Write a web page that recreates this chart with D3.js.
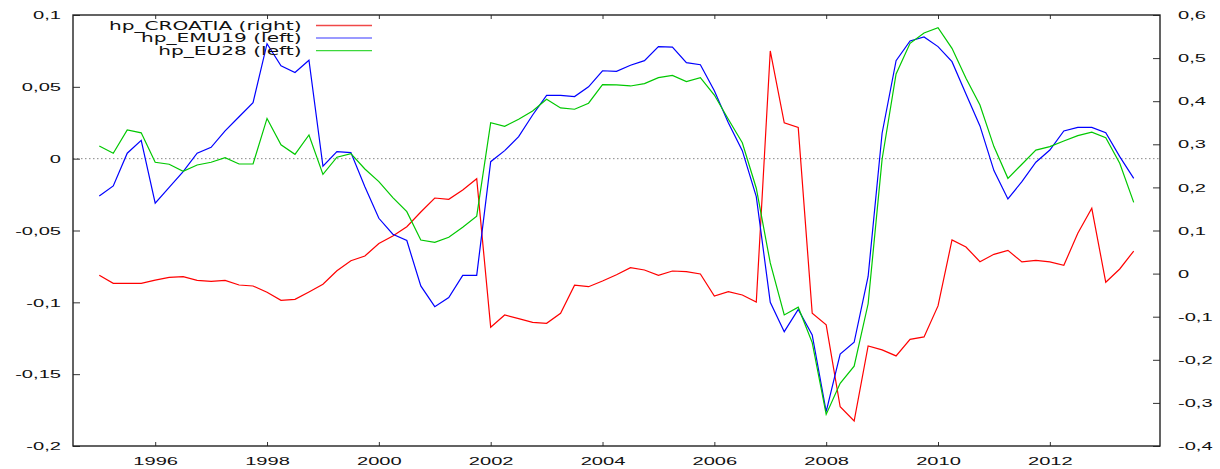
<!DOCTYPE html>
<html>
<head>
<meta charset="utf-8">
<script src="https://cdn.jsdelivr.net/npm/d3@7"></script>
<style>
  body { margin: 0; background: #fff; }
  svg { display: block; font-family: 'DejaVu Sans', sans-serif; }
  .tick line { stroke: #333; }
  .tick text { fill: #111; font-size: 11.5px; }
  .legend-text { font-size: 11.5px; fill: #111; }
</style>
</head>
<body>
<svg width="1220" height="469"></svg>
<script>
// **** data ****

var quarters = [
  '1995Q1','1995Q2','1995Q3','1995Q4','1996Q1','1996Q2','1996Q3','1996Q4',
  '1997Q1','1997Q2','1997Q3','1997Q4','1998Q1','1998Q2','1998Q3','1998Q4',
  '1999Q1','1999Q2','1999Q3','1999Q4','2000Q1','2000Q2','2000Q3','2000Q4',
  '2001Q1','2001Q2','2001Q3','2001Q4','2002Q1','2002Q2','2002Q3','2002Q4',
  '2003Q1','2003Q2','2003Q3','2003Q4','2004Q1','2004Q2','2004Q3','2004Q4',
  '2005Q1','2005Q2','2005Q3','2005Q4','2006Q1','2006Q2','2006Q3','2006Q4',
  '2007Q1','2007Q2','2007Q3','2007Q4','2008Q1','2008Q2','2008Q3','2008Q4',
  '2009Q1','2009Q2','2009Q3','2009Q4','2010Q1','2010Q2','2010Q3','2010Q4',
  '2011Q1','2011Q2','2011Q3','2011Q4','2012Q1','2012Q2','2012Q3','2012Q4',
  '2013Q1','2013Q2','2013Q3'
];

// right axis
var hpCroatia = [
  -0.004, -0.0225, -0.0225, -0.0225,
  -0.015, -0.0086, -0.0072, -0.0156,
  -0.018, -0.0156, -0.0265, -0.0288,
  -0.0434, -0.062, -0.0597, -0.0427,
  -0.0248, 0.0067, 0.030, 0.0408,
  0.070, 0.0872, 0.1088, 0.143,
  0.1754, 0.1724, 0.194, 0.220,
  -0.1246, -0.096, -0.1046, -0.113,
  -0.1153, -0.092, -0.027, -0.0304,
  -0.0172, -0.0026, 0.0137, 0.0084,
  -0.004, 0.006, 0.0044, -0.001,
  -0.052, -0.042, -0.0497, -0.0659,
  0.5165, 0.350, 0.339, -0.092,
  -0.119, -0.309, -0.342, -0.168,
  -0.177, -0.191, -0.1525, -0.147,
  -0.075, 0.078, 0.0617, 0.0277,
  0.0447, 0.054, 0.027, 0.0308,
  0.027, 0.0192, 0.0935, 0.1515,
  -0.0202, 0.0107, 0.0524
];

// left axis
var hpEmu19 = [
  -0.026, -0.019, 0.0038, 0.0128,
  -0.031, -0.020, -0.009, 0.0038,
  0.0079, 0.0193, 0.0292, 0.039,
  0.080, 0.0647, 0.060, 0.0685,
  -0.0053, 0.0049, 0.0042, -0.0195,
  -0.0415, -0.0526, -0.057, -0.0886,
  -0.103, -0.0967, -0.0812, -0.0812,
  -0.0021, 0.0056, 0.0153, 0.0304,
  0.0441, 0.0441, 0.0432, 0.050,
  0.0612, 0.0608, 0.065, 0.0682,
  0.078, 0.0777, 0.0668, 0.0654,
  0.0473, 0.025, 0.0056, -0.0264,
  -0.100, -0.1204, -0.105, -0.1227,
  -0.176, -0.136, -0.1278, -0.082,
  0.0177, 0.0682, 0.0819, 0.0847,
  0.078, 0.0675, 0.045, 0.0228,
  -0.0083, -0.028, -0.016, -0.0025,
  0.006, 0.0193, 0.0218, 0.0218,
  0.0181, 0.0014, -0.0137
];

// left axis
var hpEu28 = [
  0.0088, 0.0038, 0.020, 0.018,
  -0.0025, -0.0039, -0.0088, -0.0044,
  -0.0025, 0.0007, -0.0037, -0.0037,
  0.028, 0.0097, 0.003, 0.0165,
  -0.0109, 0.001, 0.0035, -0.0072,
  -0.016, -0.0271, -0.0369, -0.0566,
  -0.0582, -0.0547, -0.0477, -0.040,
  0.025, 0.0225, 0.0274, 0.0332,
  0.0413, 0.0353, 0.0344, 0.0386,
  0.0515, 0.0513, 0.0506, 0.0522,
  0.0564, 0.058, 0.0536, 0.0564,
  0.0443, 0.0274, 0.0111, -0.0206,
  -0.0726, -0.1088, -0.1034, -0.128,
  -0.178, -0.1564, -0.1444, -0.101,
  -0.0004, 0.059, 0.0803, 0.0875,
  0.0912, 0.0768, 0.056, 0.0374,
  0.0084, -0.0137, -0.0039, 0.006,
  0.0084, 0.0123, 0.016, 0.0184,
  0.0146, -0.0032, -0.0304
];

var yearTicks = [1996, 1998, 2000, 2002, 2004, 2006, 2008, 2010, 2012];
var leftTicks = [-0.2, -0.15, -0.1, -0.05, 0, 0.05, 0.1];
var rightTicks = [-0.4, -0.3, -0.2, -0.1, 0, 0.1, 0.2, 0.3, 0.4, 0.5, 0.6];

var seriesNames = ['hp_CROATIA (right)', 'hp_EMU19 (left)', 'hp_EU28 (left)'];
var seriesColors = ['#ff0000', '#0000ff', '#00c800'];
var legendColors = ['#f04848', '#9a9aff', '#3cd83c'];

// **** layout ****

var plotL = 73, plotR = 1160, plotT = 15, plotB = 446;
var sx = 1.75; // text is drawn wide in the original

function quarterToYear(q) {
    return +q.slice(0, 4) + (+q.slice(5) - 1) / 4;
}

function commaFmt(d) {
    return String(d).replace('.', ',');
}

var xScale = d3.scaleLinear()
    .domain([1994.53, 2013.97]).range([plotL, plotR]);

var yLeft = d3.scaleLinear()
    .domain([-0.2, 0.1]).range([plotB, plotT]);

var yRight = d3.scaleLinear()
    .domain([-0.4, 0.6]).range([plotB, plotT]);

var svg = d3.select('svg');

// zero line
svg.append('line')
    .attr('x1', plotL).attr('x2', plotR)
    .attr('y1', yLeft(0)).attr('y2', yLeft(0))
    .attr('stroke', '#888')
    .attr('stroke-width', 1)
    .attr('stroke-dasharray', '1.5,2.5');

// axes
var gBottom = svg.append('g')
    .attr('transform', 'translate(0,' + plotB + ')')
    .call(d3.axisBottom(xScale).tickValues(yearTicks).tickSize(-4).tickPadding(10.5).tickFormat(d3.format('d')));

svg.append('g')
    .attr('transform', 'translate(0,' + plotT + ')')
    .call(d3.axisTop(xScale).tickValues(yearTicks).tickSize(-4).tickFormat(''));

var gLeft = svg.append('g')
    .attr('transform', 'translate(' + plotL + ',0)')
    .call(d3.axisLeft(yLeft).tickValues(leftTicks).tickSize(-7).tickFormat(commaFmt));

var gRight = svg.append('g')
    .attr('transform', 'translate(' + plotR + ',0)')
    .call(d3.axisRight(yRight).tickValues(rightTicks).tickSize(-7).tickFormat(commaFmt));

svg.selectAll('.domain').remove();
svg.selectAll('.tick text').attr('font-family', null).attr('font-size', null);

gBottom.selectAll('.tick text')
    .attr('transform', 'scale(' + sx + ',1)');

gLeft.selectAll('.tick text')
    .attr('x', -12 / sx)
    .attr('transform', 'scale(' + sx + ',1)');

gRight.selectAll('.tick text')
    .attr('x', 18 / sx)
    .attr('transform', 'scale(' + sx + ',1)');

// frame
svg.append('rect')
    .attr('x', plotL).attr('y', plotT)
    .attr('width', plotR - plotL).attr('height', plotB - plotT)
    .attr('fill', 'none')
    .attr('stroke', '#222')
    .attr('stroke-width', 1.4);

// lines
var lineLeft = d3.line()
    .x(function (d, i) { return xScale(quarterToYear(quarters[i])); })
    .y(function (d) { return yLeft(d); });

var lineRight = d3.line()
    .x(function (d, i) { return xScale(quarterToYear(quarters[i])); })
    .y(function (d) { return yRight(d); });

svg.append('path')
    .datum(hpCroatia)
    .attr('d', lineRight)
    .attr('fill', 'none')
    .attr('stroke', seriesColors[0])
    .attr('stroke-width', 1.2);

svg.append('path')
    .datum(hpEmu19)
    .attr('d', lineLeft)
    .attr('fill', 'none')
    .attr('stroke', seriesColors[1])
    .attr('stroke-width', 1.2);

svg.append('path')
    .datum(hpEu28)
    .attr('d', lineLeft)
    .attr('fill', 'none')
    .attr('stroke', seriesColors[2])
    .attr('stroke-width', 1.2);

// legend
var legend = svg.append('g').attr('transform', 'translate(0,25.5)');

seriesNames.forEach(function (name, i) {
    var y = i * 12.6;
    legend.append('text')
        .attr('class', 'legend-text')
        .attr('x', 301.5 / sx)
        .attr('y', y)
        .attr('dy', '0.36em')
        .attr('text-anchor', 'end')
        .attr('transform', 'scale(' + sx + ',1)')
        .text(name);
    legend.append('line')
        .attr('x1', 316).attr('x2', 372)
        .attr('y1', y).attr('y2', y)
        .attr('stroke', legendColors[i])
        .attr('stroke-width', i === 1 ? 2 : 1.3);
});
</script>
</body>
</html>
